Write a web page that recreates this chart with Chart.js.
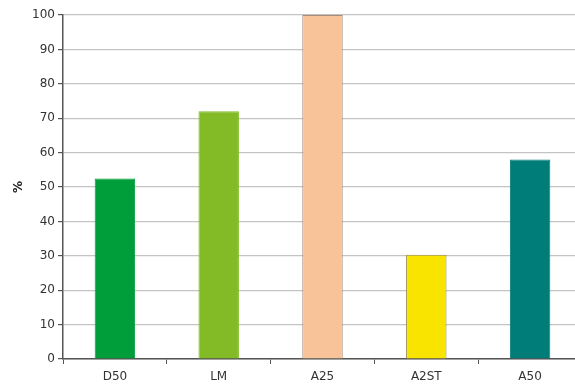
<!DOCTYPE html>
<html>
<head>
<meta charset="utf-8">
<script src="https://cdn.jsdelivr.net/npm/chart.js@4"></script>
<style>
  html, body { margin: 0; padding: 0; background: #fff; overflow: hidden; }
  #wrap { width: 582px; height: 387px; }
</style>
</head>
<body>
<div id="wrap"><canvas id="chart"></canvas></div>
<script>
// --- data ---
const categories = ['D50', 'LM', 'A25', 'A2ST', 'A50'];
const values = [52.5, 72, 100, 30.3, 58];
const barColors = ['#009d3b', '#83bb27', '#f8c398', '#f9e400', '#007c79'];
const barBorders = ['#009d3b', '#83bb27', '#a98a78', '#9c9050', '#007c79'];
const yTicks = [0, 10, 20, 30, 40, 50, 60, 70, 80, 90, 100];

const ctx = document.getElementById('chart').getContext('2d');
new Chart(ctx, {
    type: 'bar',
    data: {
        labels: categories,
        datasets: [{
            data: values,
            backgroundColor: barColors,
            borderColor: barBorders,
            borderWidth: 1,
            barPercentage: 0.39,
            categoryPercentage: 1
        }]
    },
    options: {
        responsive: true,
        maintainAspectRatio: false,
        animation: false,
        layout: { padding: { top: 15, right: 0, left: 0, bottom: 0 } },
        plugins: { legend: { display: false }, tooltip: { enabled: false } },
        scales: {
            x: {
                afterFit: s => { s.height = 28; },
                border: { color: '#555', width: 1.5 },
                grid: { offset: true, drawOnChartArea: false, tickLength: 5, color: '#555' },
                ticks: { color: '#333', font: { family: 'DejaVu Sans', size: 12 }, padding: 6 }
            },
            y: {
                min: 0,
                max: 100,
                afterFit: s => { s.width = 63; },
                afterBuildTicks: s => { s.ticks = yTicks.map(v => ({ value: v })); },
                border: { color: '#555', width: 1.5 },
                grid: { color: '#c4c4c4', lineWidth: 1.2, tickLength: 5, tickColor: '#555' },
                ticks: { color: '#333', font: { family: 'DejaVu Sans', size: 12 }, padding: 3 },
                title: { display: true, text: '%', color: '#222', font: { family: 'DejaVu Sans', size: 12, weight: 'bold' }, padding: { top: 12, bottom: 0 } }
            }
        }
    }
});
</script>
</body>
</html>
